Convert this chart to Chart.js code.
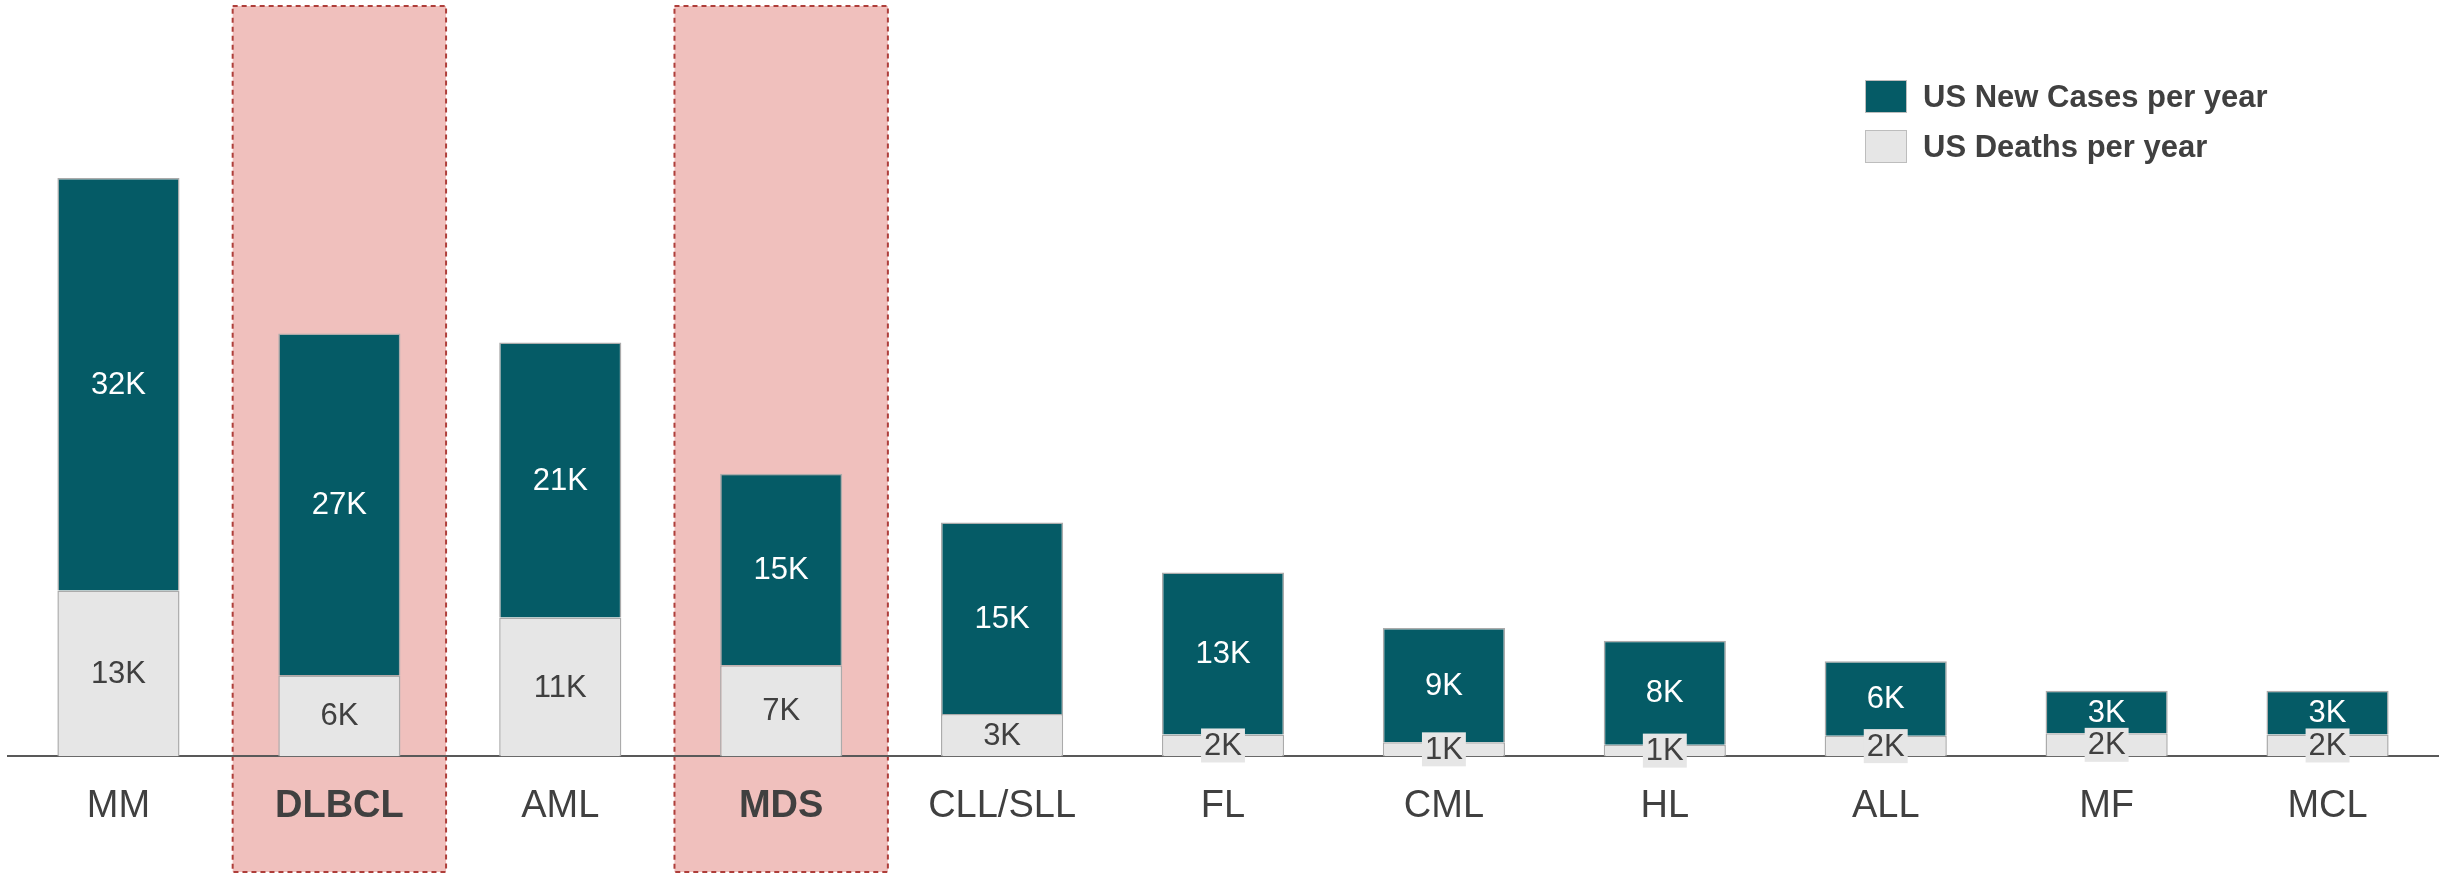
<!DOCTYPE html>
<html>
<head>
<meta charset="utf-8">
<script src="https://cdn.jsdelivr.net/npm/chart.js@4.4.1/dist/chart.umd.min.js"></script>
<style>
    body { margin: 0; background: #fff; }
    #wrap { position: relative; width: 2455px; height: 873px; }
    #legend { position: absolute; left: 1865px; top: 80px; font-family: "Liberation Sans", Arial, sans-serif; }
    .item { display: flex; align-items: center; height: 33px; margin-bottom: 17px; }
    .swatch { width: 40px; height: 31px; border: 1px solid #BDBDBD; margin-right: 16px; }
    .item span { font-size: 31px; font-weight: bold; color: #404040; }
</style>
</head>
<body>
<div id="wrap">
    <canvas id="chart"></canvas>
    <div id="legend"></div>
</div>
<script>
const categories = ['MM', 'DLBCL', 'AML', 'MDS', 'CLL/SLL', 'FL', 'CML', 'HL', 'ALL', 'MF', 'MCL'];
const newCases = [32100, 26600, 21400, 14900, 14900, 12600, 8900, 8100, 5800, 3300, 3400];
const deaths = [12900, 6300, 10800, 7100, 3300, 1700, 1100, 900, 1600, 1800, 1700];
const highlighted = ['DLBCL', 'MDS'];

const tealColor = '#055B66';
const greyColor = '#E6E6E6';
const fontFamily = '"Liberation Sans", Arial, sans-serif';

function kLabel(v) {
    return Math.round(v / 1000) + 'K';
}

// legend drawn as html, new cases first
const legendEl = document.getElementById('legend');
[['US New Cases per year', tealColor], ['US Deaths per year', greyColor]].forEach(([text, color]) => {
    const row = document.createElement('div');
    row.className = 'item';
    row.innerHTML = `<div class="swatch" style="background:${color}"></div><span>${text}</span>`;
    legendEl.appendChild(row);
});

const highlightBoxes = {
    id: 'highlightBoxes',
    beforeDraw(chart) {
        const { ctx, scales: { x }, chartArea } = chart;
        const step = x.getPixelForValue(1) - x.getPixelForValue(0);
        ctx.save();
        categories.forEach((c, i) => {
            if (!highlighted.includes(c)) return;
            const cx = x.getPixelForValue(i);
            const left = cx - step * 0.483;
            const w = step * 0.966;
            const top = chartArea.top - 5;
            const h = chart.height - 1 - top;
            ctx.fillStyle = '#F0C0BD';
            ctx.fillRect(left, top, w, h);
            ctx.setLineDash([5, 4]);
            ctx.lineWidth = 2;
            ctx.strokeStyle = '#AE3E3A';
            ctx.strokeRect(left, top, w, h);
        });
        ctx.restore();
    }
};

const barLabels = {
    id: 'barLabels',
    afterDatasetsDraw(chart) {
        const { ctx } = chart;
        ctx.save();
        ctx.font = '31px ' + fontFamily;
        ctx.textAlign = 'center';
        ctx.textBaseline = 'middle';
        chart.data.datasets.forEach((ds, di) => {
            const meta = chart.getDatasetMeta(di);
            meta.data.forEach((bar, i) => {
                const text = kLabel(ds.data[i]);
                const y = (bar.y + bar.base) / 2;
                if (di === 0) {
                    const w = ctx.measureText(text).width + 6;
                    ctx.fillStyle = greyColor;
                    ctx.fillRect(bar.x - w / 2, y - 17, w, 34);
                    ctx.fillStyle = '#404040';
                } else {
                    ctx.fillStyle = '#ffffff';
                }
                ctx.fillText(text, bar.x, y + 1);
            });
        });
        ctx.restore();
    }
};

new Chart(document.getElementById('chart').getContext('2d'), {
    type: 'bar',
    data: {
        labels: categories,
        datasets: [{
            label: 'US Deaths per year',
            data: deaths,
            backgroundColor: greyColor,
            borderColor: '#ABABAB',
            borderWidth: 1.5,
            categoryPercentage: 1,
            barPercentage: 0.553
        }, {
            label: 'US New Cases per year',
            data: newCases,
            backgroundColor: tealColor,
            borderColor: '#ABABAB',
            borderWidth: 1.5,
            categoryPercentage: 1,
            barPercentage: 0.553
        }]
    },
    options: {
        responsive: true,
        maintainAspectRatio: false,
        animation: false,
        layout: {
            padding: { left: 8, right: 17, top: 11, bottom: 17 }
        },
        plugins: {
            legend: { display: false },
            tooltip: { enabled: false }
        },
        scales: {
            x: {
                stacked: true,
                grid: { display: false, drawTicks: false },
                border: { display: true, color: '#595959', width: 2 },
                ticks: {
                    padding: 27,
                    color: '#404040',
                    font: (c) => ({
                        family: fontFamily,
                        size: 38,
                        weight: highlighted.includes(categories[c.index]) ? 'bold' : 'normal'
                    })
                }
            },
            y: {
                stacked: true,
                display: false,
                min: 0,
                max: 58000
            }
        }
    },
    plugins: [highlightBoxes, barLabels]
});
</script>
</body>
</html>
